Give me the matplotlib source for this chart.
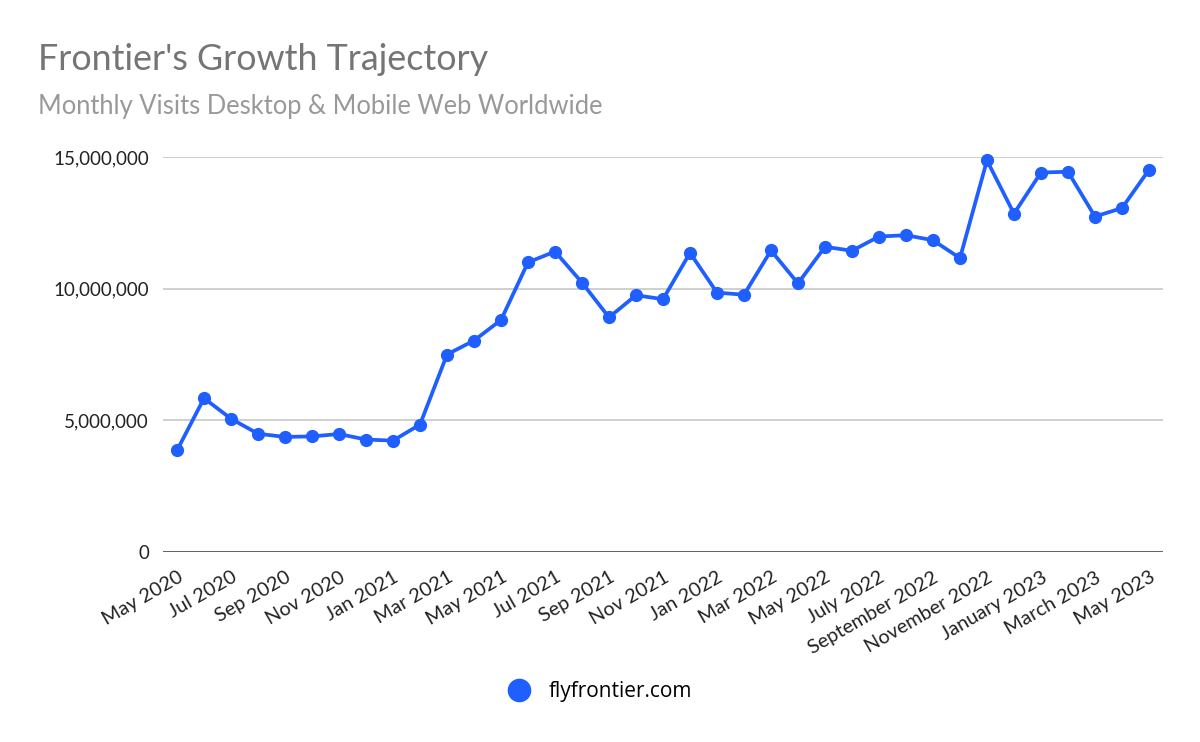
import matplotlib
matplotlib.use("Agg")
import matplotlib.pyplot as plt
from matplotlib.lines import Line2D

# monthly visits, May 2020 .. May 2023
months = ["May 2020", "Jun 2020", "Jul 2020", "Aug 2020", "Sep 2020", "Oct 2020", "Nov 2020",
          "Dec 2020", "Jan 2021", "Feb 2021", "Mar 2021", "Apr 2021", "May 2021", "Jun 2021",
          "Jul 2021", "Aug 2021", "Sep 2021", "Oct 2021", "Nov 2021", "Dec 2021", "Jan 2022",
          "Feb 2022", "Mar 2022", "Apr 2022", "May 2022", "June 2022", "July 2022", "August 2022",
          "September 2022", "October 2022", "November 2022", "December 2022", "January 2023",
          "February 2023", "March 2023", "April 2023", "May 2023"]
visits = [3.86, 5.84, 5.06, 4.49, 4.37, 4.39, 4.48, 4.27, 4.23, 4.84, 7.50, 8.03, 8.81,
          11.00, 11.41, 10.23, 8.91, 9.75, 9.60, 11.36, 9.85, 9.77, 11.45, 10.20, 11.59,
          11.44, 11.98, 12.03, 11.84, 11.16, 14.87, 12.85, 14.41, 14.44, 12.74, 13.06, 14.51]
visits = [v * 1e6 for v in visits]
y_ticks = [0, 5e6, 10e6, 15e6]
series_name = "flyfrontier.com"

blue = "#1f5eff"
font = ["Lato", "DejaVu Sans"]
plt.rcParams["font.family"] = font

fig = plt.figure(figsize=(12, 7.42), dpi=100)
ax = fig.add_axes([163/1200, 1-552/742, 1000/1200, 395/742])

x = list(range(len(months)))
ax.plot(x, visits, color=blue, lw=2.7, marker="o", ms=8.5, zorder=3, clip_on=False)

ax.set_ylim(0, 15e6)
ax.set_xlim(-0.52, len(months)-1+0.52)
ax.set_yticks(y_ticks)
ax.set_yticklabels(["{:,}".format(int(v)) for v in y_ticks], fontsize=13.5, color="#222222")
ax.set_xticks(x[::2])
ax.set_xticklabels(months[::2], rotation=30, ha="right", rotation_mode="anchor",
                   fontsize=14.3, color="#222222")
ax.tick_params(length=0, pad=10)
ax.tick_params(axis="x", pad=12)

for s in ax.spines.values():
    s.set_visible(False)
for v in y_ticks[1:]:
    ax.axhline(v, color="#cccccc", lw=1.3, zorder=1)
ax.axhline(0, color="#333333", lw=1.8, zorder=2)

fig.text(38/1200, 1-70/742, "Frontier's Growth Trajectory", fontsize=25.8, color="#757575")
fig.text(38/1200, 1-114/742, "Monthly Visits Desktop & Mobile Web Worldwide", fontsize=18.4,
         color="#999999")

handle = Line2D([], [], color=blue, marker="o", ls="none", ms=16)
fig.legend([handle], [series_name], loc="center", bbox_to_anchor=(0.496, 1-692/742),
           frameon=False, handletextpad=0.4,
           prop={"family": ["Open Sans", "DejaVu Sans"], "size": 15})

fig.savefig("out.png", dpi=100)
